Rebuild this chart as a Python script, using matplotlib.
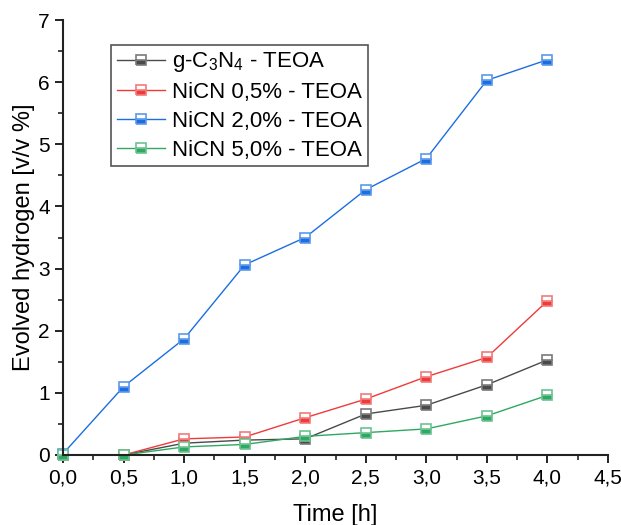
import numpy as np
from matplotlib import pyplot as plt
from matplotlib.ticker import MultipleLocator, FuncFormatter

plt.rcParams['font.family'] = ['Liberation Sans', 'DejaVu Sans']
plt.rcParams['mathtext.fontset'] = 'custom'
plt.rcParams['mathtext.rm'] = 'Liberation Sans'
plt.rcParams['mathtext.it'] = 'Liberation Sans'

time_h = [0.0, 0.5, 1.0, 1.5, 2.0, 2.5, 3.0, 3.5, 4.0]

gcn = [0.0, 0.0, 0.19, 0.24, 0.26, 0.66, 0.80, 1.13, 1.53]
nicn_05 = [0.0, 0.0, 0.26, 0.29, 0.60, 0.90, 1.26, 1.57, 2.48]
nicn_20 = [0.02, 1.10, 1.87, 3.06, 3.50, 4.27, 4.77, 6.03, 6.36]
nicn_50 = [0.0, 0.0, 0.13, 0.17, 0.30, 0.36, 0.42, 0.63, 0.96]

labels = [r'g-C$_\mathregular{3}$N$_\mathregular{4}$ - TEOA',
          'NiCN 0,5% - TEOA', 'NiCN 2,0% - TEOA', 'NiCN 5,0% - TEOA']
colors = ['#4a4a4a', '#f03a3a', '#1c6ee0', '#2ea862']
edge_colors = ['#7a7a7a', '#f27a7a', '#5c98ea', '#6cc290']

fig = plt.figure(figsize=(6.21, 5.25), dpi=100)
ax = fig.add_axes([63/621, 70/525, 545/621, 435/525])

series = [gcn, nicn_05, nicn_20, nicn_50]
for y, lab, c, ec in zip(series, labels, colors, edge_colors):
    ax.plot(time_h, y, color=c, lw=1.0, marker='s', markersize=7.5,
            fillstyle='bottom', markerfacecolor=c, markerfacecoloralt='white',
            markeredgecolor=ec, markeredgewidth=1.2, label=lab, clip_on=False)

ax.set_xlim(0, 4.5)
ax.set_ylim(0, 7)
ax.xaxis.set_major_locator(MultipleLocator(0.5))
ax.xaxis.set_minor_locator(MultipleLocator(0.25))
ax.yaxis.set_major_locator(MultipleLocator(1))
ax.yaxis.set_minor_locator(MultipleLocator(0.5))
ax.xaxis.set_major_formatter(FuncFormatter(lambda v, p: f'{v:.1f}'.replace('.', ',')))
ax.yaxis.set_major_formatter(FuncFormatter(lambda v, p: f'{v:.0f}'))

for s in ['top', 'right']:
    ax.spines[s].set_visible(False)
for s in ['left', 'bottom']:
    ax.spines[s].set_linewidth(1.5)
    ax.spines[s].set_color('#222222')

ax.tick_params(which='major', direction='out', length=6, width=1.4, labelsize=15, colors='#222222')
ax.tick_params(which='minor', direction='out', length=3.5, width=1.2, colors='#222222')
for t in ax.get_xticklabels() + ax.get_yticklabels():
    t.set_color('black')

ax.set_xlabel('Time [h]', fontsize=17, labelpad=12)
ax.set_ylabel('Evolved hydrogen [v/v %]', fontsize=17, labelpad=2)

leg = ax.legend(loc='upper left', bbox_to_anchor=(0.088, 0.943), borderaxespad=0,
                fontsize=16, fancybox=False, framealpha=1, edgecolor='#555555',
                handlelength=2.2, handletextpad=0.3, labelspacing=0.35,
                borderpad=0.25)
leg.get_frame().set_linewidth(1.2)

plt.savefig('out.png', dpi=100)
